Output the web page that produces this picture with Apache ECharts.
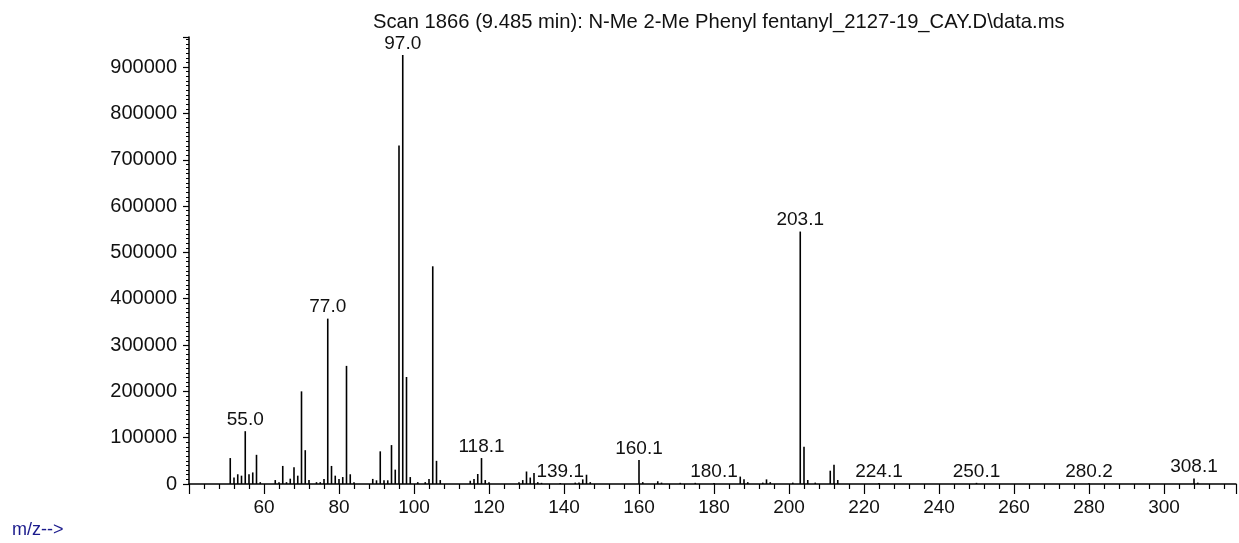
<!DOCTYPE html>
<html>
<head>
<meta charset="utf-8">
<script src="https://cdn.jsdelivr.net/npm/echarts@6/dist/echarts.min.js"></script>
<style>
html,body{margin:0;padding:0;background:#fff;}
#chart{width:1239px;height:543px;}
</style>
</head>
<body>
<div id="chart"></div>
<script>
const titleText = 'Scan 1866 (9.485 min): N-Me 2-Me Phenyl fentanyl_2127-19_CAY.D\\data.ms';
const xAxisName = 'm/z-->';

const mzValues = [51,52,53,54,55,56,57,58,59,63,64,65,66,67,68,69,70,71,72,74,75,76,77,78,79,80,81,82,83,84,
  89,90,91,92,93,94,95,96,97,98,99,101,103,104,105,106,107,115,116,117,118,119,120,
  128,129,130,131,132,133,134,139,143,144,145,146,147,160,161,165,166,171,175,180,
  187,188,189,193,194,195,201,203,204,205,207,211,212,213,224,250,280,308,309];
const abundance = [56000,14000,21000,18000,114000,21000,25000,63000,4000,8500,4000,39000,4000,11500,36000,18000,200000,73000,8500,4000,4000,11000,357000,39000,18000,11000,15000,255000,21000,4000,
  11000,8000,70500,8000,8000,84000,31000,731000,926000,231000,15000,4000,4000,11000,470000,50000,8500,7000,11000,21600,56000,8500,4000,
  4000,8500,27000,14000,24000,4000,2500,2000,3000,3000,10000,20000,4000,52000,4000,6000,3000,2500,2500,2000,
  16000,10000,4000,3000,10000,4000,3000,545000,80500,8600,3000,28700,41700,8600,2000,2500,1500,12000,3000];

const labelMz = [55,77,97,118,139,160,180,203,224,250,280,308];
const labelText = ['55.0','77.0','97.0','118.1','139.1','160.1','180.1','203.1','224.1','250.1','280.2','308.1'];

const xMin = 40, xMax = 319.2, xInterval = 20;
const yMin = 0, yMax = 965000, yInterval = 100000;

const FONT = '"Liberation Sans", Arial, sans-serif';

const seriesData = mzValues.map((m, i) => {
  const li = labelMz.indexOf(m);
  const item = { value: [m, abundance[i]] };
  if (li >= 0) {
    item.label = { show: true, formatter: labelText[li] };
  }
  return item;
});

const chart = echarts.init(document.getElementById('chart'), null, { renderer: 'canvas' });
chart.setOption({
  animation: false,
  backgroundColor: '#ffffff',
  grid: { left: 189, right: 3, top: 37, bottom: 59, containLabel: false },
  xAxis: {
    type: 'value', min: xMin, max: xMax, interval: xInterval,
    axisLine: { show: true, lineStyle: { color: '#000', width: 1.5 } },
    axisTick: { show: true, length: 10, lineStyle: { color: '#000', width: 1.2 } },
    minorTick: { show: true, splitNumber: 5, length: 5, lineStyle: { color: '#000', width: 1.2 } },
    splitLine: { show: false },
    axisLabel: {
      margin: 14, color: '#111', fontFamily: FONT, fontSize: 19,
      formatter: v => (v % 20 === 0 && v > 40) ? String(v) : ''
    }
  },
  yAxis: {
    type: 'value', min: yMin, max: yMax, interval: yInterval,
    axisLine: { show: true, lineStyle: { color: '#000', width: 1.5 } },
    axisTick: { show: true, length: 6, lineStyle: { color: '#000', width: 1.2 } },
    minorTick: { show: true, splitNumber: 10, length: 3, lineStyle: { color: '#000', width: 1 } },
    splitLine: { show: false },
    axisLabel: {
      margin: 12, color: '#111', fontFamily: FONT, fontSize: 20,
      formatter: v => (v % 100000 === 0) ? String(v) : ''
    }
  },
  series: [{
    type: 'bar',
    data: seriesData,
    barWidth: 1.6,
    itemStyle: { color: '#000' },
    label: {
      show: false, position: 'top', distance: 2,
      color: '#111', fontFamily: FONT, fontSize: 19
    },
    emphasis: { disabled: true }
  }],
  graphic: [
    { type: 'text', left: 373, top: 12,
      style: { text: titleText, fill: '#111', font: '20.2px ' + FONT } },
    { type: 'text', left: 12, top: 521,
      style: { text: xAxisName, fill: '#1a1a8c', font: '18px ' + FONT } }
  ]
});
</script>
</body>
</html>
